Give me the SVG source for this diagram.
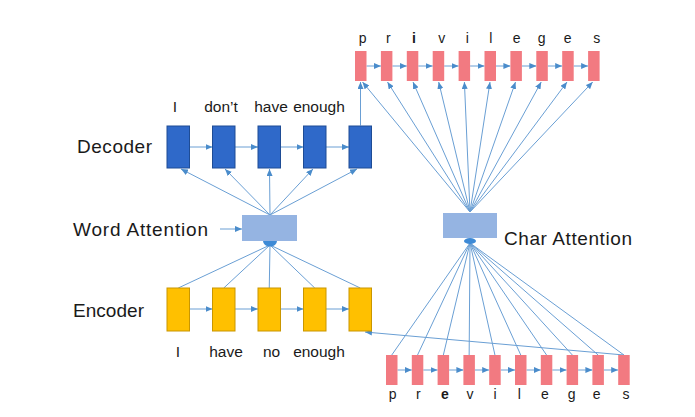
<svg xmlns="http://www.w3.org/2000/svg" width="695" height="417" viewBox="0 0 695 417">
<defs>
<marker id="ah" markerUnits="userSpaceOnUse" markerWidth="7" markerHeight="6" refX="7" refY="3" orient="auto">
<path d="M0,0 L7,3 L0,6 z" fill="#4a8ccb"/>
</marker>
<style>
.dec{fill:#2f69c9;stroke:#1e4c95;stroke-width:1}
.enc{fill:#ffc000;stroke:#c99600;stroke-width:1}
.att{fill:#95b4e2}
.chr{fill:#f27a81}
.ln{stroke:#6a9fd4;stroke-width:1;fill:none}
.ar{stroke:#6a9fd4;stroke-width:1;fill:none;marker-end:url(#ah)}
.lbl{font-family:"Liberation Sans",Arial,sans-serif;font-size:19px;fill:#1a1a1a}
.wd{font-family:"Liberation Sans",Arial,sans-serif;font-size:15.5px;fill:#1a1a1a;text-anchor:middle}
.ch{font-family:"Liberation Sans",Arial,sans-serif;font-size:14px;fill:#1a1a1a;text-anchor:middle}
</style>
</defs>
<rect width="695" height="417" fill="#ffffff"/>

<g id="connectors">
<line class="ar" x1="189.5" y1="147" x2="212.5" y2="147"/>
<line class="ar" x1="235" y1="147" x2="258" y2="147"/>
<line class="ar" x1="280.5" y1="147" x2="303.5" y2="147"/>
<line class="ar" x1="326" y1="147" x2="349" y2="147"/>
<line class="ar" x1="189.5" y1="309" x2="212.5" y2="309"/>
<line class="ar" x1="235" y1="309" x2="258" y2="309"/>
<line class="ar" x1="280.5" y1="309" x2="303.5" y2="309"/>
<line class="ar" x1="326" y1="309" x2="349" y2="309"/>
<line class="ar" x1="270" y1="215" x2="181" y2="169"/>
<line class="ar" x1="270" y1="215" x2="225" y2="169"/>
<line class="ar" x1="270" y1="215" x2="269.5" y2="169"/>
<line class="ar" x1="270" y1="215" x2="313" y2="169"/>
<line class="ar" x1="270" y1="215" x2="357" y2="169"/>
<line class="ln" x1="270" y1="245" x2="178.25" y2="288"/>
<line class="ln" x1="270" y1="245" x2="223.75" y2="288"/>
<line class="ln" x1="270" y1="245" x2="269.25" y2="288"/>
<line class="ln" x1="270" y1="245" x2="314.75" y2="288"/>
<line class="ln" x1="270" y1="245" x2="360.25" y2="288"/>
<line class="ar" x1="220" y1="229" x2="242" y2="229"/>
<line class="ar" x1="360.5" y1="125.5" x2="360.5" y2="82"/>
<line class="ar" x1="366.5" y1="66" x2="380.9" y2="66"/>
<line class="ar" x1="392.4" y1="66" x2="406.8" y2="66"/>
<line class="ar" x1="418.3" y1="66" x2="432.7" y2="66"/>
<line class="ar" x1="444.2" y1="66" x2="458.6" y2="66"/>
<line class="ar" x1="470.1" y1="66" x2="484.5" y2="66"/>
<line class="ar" x1="496" y1="66" x2="510.4" y2="66"/>
<line class="ar" x1="521.9" y1="66" x2="536.3" y2="66"/>
<line class="ar" x1="547.8" y1="66" x2="562.2" y2="66"/>
<line class="ar" x1="573.7" y1="66" x2="588.1" y2="66"/>
<line class="ar" x1="470" y1="212" x2="362.5" y2="82"/>
<line class="ar" x1="470" y1="212" x2="387.5" y2="82"/>
<line class="ar" x1="470" y1="212" x2="413" y2="82"/>
<line class="ar" x1="470" y1="212" x2="438.7" y2="82"/>
<line class="ar" x1="470" y1="212" x2="464.4" y2="82"/>
<line class="ar" x1="470" y1="212" x2="490" y2="82"/>
<line class="ar" x1="470" y1="212" x2="515.5" y2="82"/>
<line class="ar" x1="470" y1="212" x2="541.2" y2="82"/>
<line class="ar" x1="470" y1="212" x2="567" y2="82"/>
<line class="ar" x1="470" y1="212" x2="592.7" y2="82"/>
<line class="ar" x1="397.5" y1="370" x2="411.8" y2="370"/>
<line class="ar" x1="423.3" y1="370" x2="437.6" y2="370"/>
<line class="ar" x1="449.1" y1="370" x2="463.4" y2="370"/>
<line class="ar" x1="474.9" y1="370" x2="489.2" y2="370"/>
<line class="ar" x1="500.7" y1="370" x2="515" y2="370"/>
<line class="ar" x1="526.5" y1="370" x2="540.8" y2="370"/>
<line class="ar" x1="552.3" y1="370" x2="566.6" y2="370"/>
<line class="ar" x1="578.1" y1="370" x2="592.4" y2="370"/>
<line class="ar" x1="603.9" y1="370" x2="618.2" y2="370"/>
<line class="ln" x1="470" y1="243" x2="391.75" y2="355"/>
<line class="ln" x1="470" y1="243" x2="417.55" y2="355"/>
<line class="ln" x1="470" y1="243" x2="443.35" y2="355"/>
<line class="ln" x1="470" y1="243" x2="469.15" y2="355"/>
<line class="ln" x1="470" y1="243" x2="494.95" y2="355"/>
<line class="ln" x1="470" y1="243" x2="520.75" y2="355"/>
<line class="ln" x1="470" y1="243" x2="546.55" y2="355"/>
<line class="ln" x1="470" y1="243" x2="572.35" y2="355"/>
<line class="ln" x1="470" y1="243" x2="598.15" y2="355"/>
<line class="ln" x1="470" y1="243" x2="623.95" y2="355"/>
<line class="ar" x1="624" y1="355" x2="365" y2="332"/>
</g>

<g id="label-decoder"><text class="lbl" x="77" y="153" textLength="75">Decoder</text></g>
<g id="label-word-attention"><text class="lbl" x="73" y="235.5" textLength="135">Word Attention</text></g>
<g id="label-encoder"><text class="lbl" x="73" y="316.5" textLength="71">Encoder</text></g>
<g id="label-char-attention"><text class="lbl" x="504" y="245" textLength="128">Char Attention</text></g>

<g id="decoder-words">
<text class="wd" x="175" y="112">I</text>
<text class="wd" x="221" y="112">don’t</text>
<text class="wd" x="271" y="112">have</text>
<text class="wd" x="319" y="112">enough</text>
</g>
<g id="encoder-words">
<text class="wd" x="178" y="357">I</text>
<text class="wd" x="226" y="357">have</text>
<text class="wd" x="271.5" y="357">no</text>
<text class="wd" x="319" y="357">enough</text>
</g>

<g id="decoder-1"><rect class="dec" x="167" y="126" width="22.5" height="42"/></g>
<g id="decoder-2"><rect class="dec" x="212.5" y="126" width="22.5" height="42"/></g>
<g id="decoder-3"><rect class="dec" x="258" y="126" width="22.5" height="42"/></g>
<g id="decoder-4"><rect class="dec" x="303.5" y="126" width="22.5" height="42"/></g>
<g id="decoder-5"><rect class="dec" x="349" y="126" width="22.5" height="42"/></g>

<g id="encoder-1"><rect class="enc" x="167" y="288" width="22.5" height="43"/></g>
<g id="encoder-2"><rect class="enc" x="212.5" y="288" width="22.5" height="43"/></g>
<g id="encoder-3"><rect class="enc" x="258" y="288" width="22.5" height="43"/></g>
<g id="encoder-4"><rect class="enc" x="303.5" y="288" width="22.5" height="43"/></g>
<g id="encoder-5"><rect class="enc" x="349" y="288" width="22.5" height="43"/></g>

<g id="word-attention">
<rect class="att" x="242" y="215" width="55" height="26"/>
<path d="M263,241 A7,5.5 0 0 0 277,241 Z" fill="#3d8ad6"/>
</g>
<g id="char-attention">
<rect class="att" x="443" y="213" width="54" height="25"/>
<ellipse cx="470" cy="241" rx="6" ry="3" fill="#3d8ad6"/>
</g>

<g id="top-chars">
<rect class="chr" x="355" y="51" width="11.5" height="30"/>
<rect class="chr" x="380.9" y="51" width="11.5" height="30"/>
<rect class="chr" x="406.8" y="51" width="11.5" height="30"/>
<rect class="chr" x="432.7" y="51" width="11.5" height="30"/>
<rect class="chr" x="458.6" y="51" width="11.5" height="30"/>
<rect class="chr" x="484.5" y="51" width="11.5" height="30"/>
<rect class="chr" x="510.4" y="51" width="11.5" height="30"/>
<rect class="chr" x="536.3" y="51" width="11.5" height="30"/>
<rect class="chr" x="562.2" y="51" width="11.5" height="30"/>
<rect class="chr" x="588.1" y="51" width="11.5" height="30"/>
<text class="ch" x="362.7" y="43">p</text>
<text class="ch" x="388.3" y="43">r</text>
<text class="ch" x="414" y="43" font-weight="bold">i</text>
<text class="ch" x="441.7" y="43">v</text>
<text class="ch" x="467.3" y="43">i</text>
<text class="ch" x="490.7" y="43">l</text>
<text class="ch" x="516.7" y="43">e</text>
<text class="ch" x="541.7" y="43">g</text>
<text class="ch" x="567.7" y="43">e</text>
<text class="ch" x="596.7" y="43">s</text>
</g>

<g id="bottom-chars">
<rect class="chr" x="386" y="355" width="11.5" height="30"/>
<rect class="chr" x="411.8" y="355" width="11.5" height="30"/>
<rect class="chr" x="437.6" y="355" width="11.5" height="30"/>
<rect class="chr" x="463.4" y="355" width="11.5" height="30"/>
<rect class="chr" x="489.2" y="355" width="11.5" height="30"/>
<rect class="chr" x="515" y="355" width="11.5" height="30"/>
<rect class="chr" x="540.8" y="355" width="11.5" height="30"/>
<rect class="chr" x="566.6" y="355" width="11.5" height="30"/>
<rect class="chr" x="592.4" y="355" width="11.5" height="30"/>
<rect class="chr" x="618.2" y="355" width="11.5" height="30"/>
<text class="ch" x="392.7" y="399">p</text>
<text class="ch" x="418.3" y="399">r</text>
<text class="ch" x="445" y="399" font-weight="bold">e</text>
<text class="ch" x="470" y="399">v</text>
<text class="ch" x="495" y="399">i</text>
<text class="ch" x="519.3" y="399">l</text>
<text class="ch" x="545" y="399">e</text>
<text class="ch" x="571.7" y="399">g</text>
<text class="ch" x="596.7" y="399">e</text>
<text class="ch" x="626" y="399">s</text>
</g>
</svg>
